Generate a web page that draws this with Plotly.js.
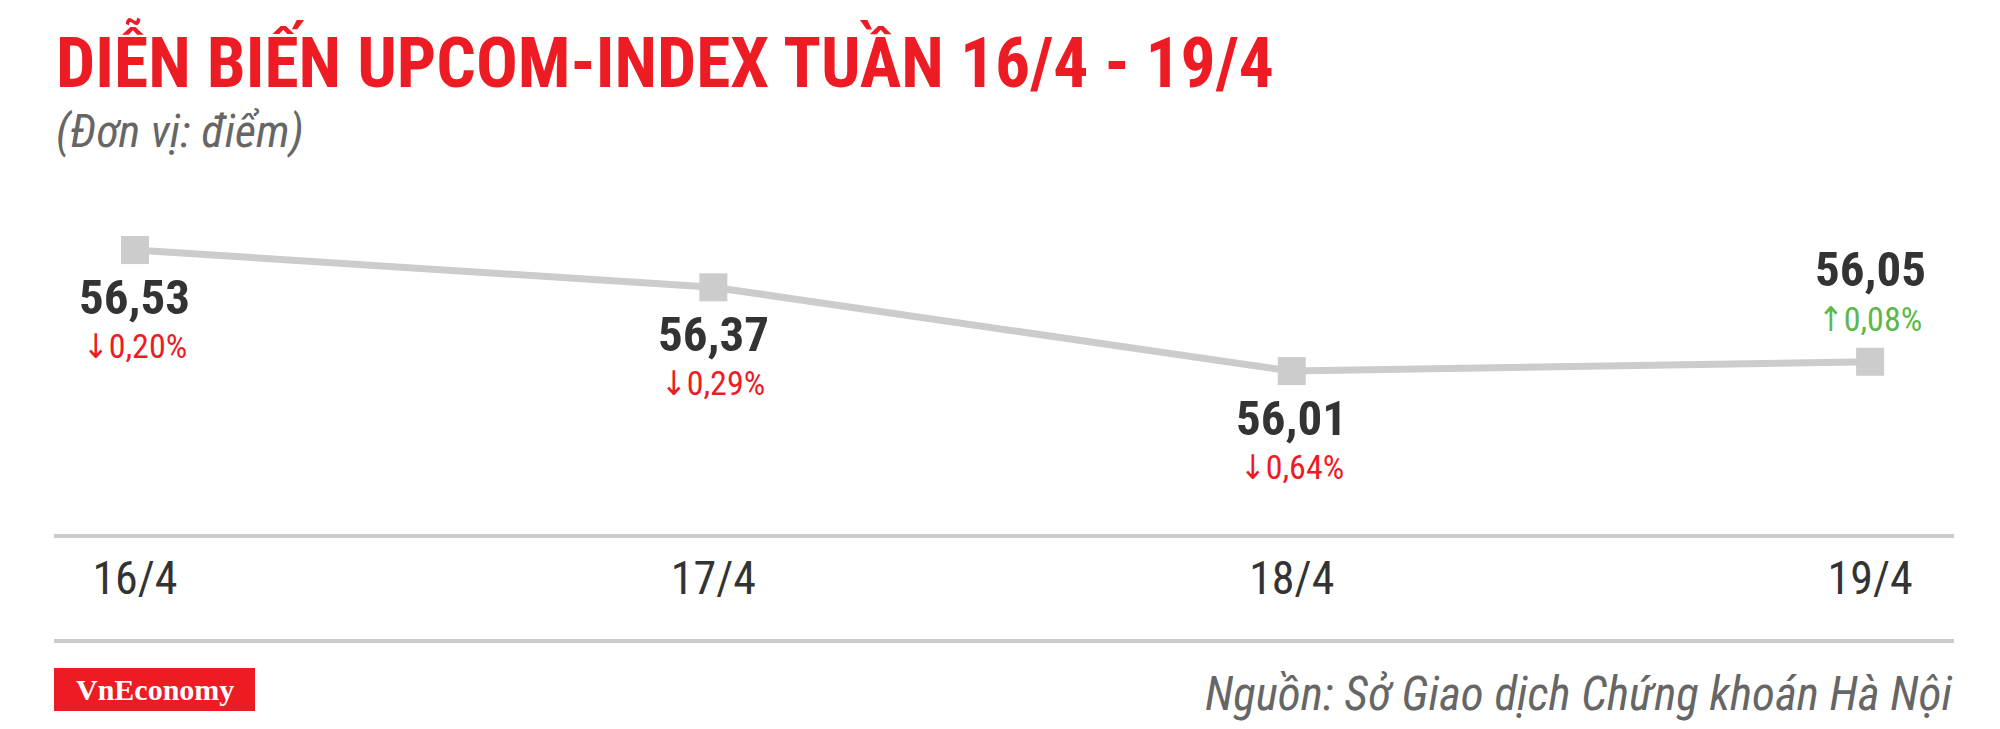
<!DOCTYPE html>
<html>
<head>
<meta charset="utf-8">
<script src="https://cdn.plot.ly/plotly-3.0.1.min.js"></script>
<style>
  html, body { margin: 0; padding: 0; background: #ffffff; }
  #chart { width: 2000px; height: 729px; }
</style>
</head>
<body>
<div id="chart"></div>
<script>
// ---- Data ----
const dates = ['16/4', '17/4', '18/4', '19/4'];
const values = [56.53, 56.37, 56.01, 56.05];
const valueLabels = ['56,53', '56,37', '56,01', '56,05'];
const changeLabels = ['↓0,20%', '↓0,29%', '↓0,64%', '↑0,08%'];
const directions = ['down', 'down', 'down', 'up'];

const titleText = 'DIỄN BIẾN UPCOM-INDEX TUẦN 16/4 - 19/4';
const subtitleText = '(Đơn vị: điểm)';
const sourceText = 'Nguồn: Sở Giao dịch Chứng khoán Hà Nội';
const logoText = 'VnEconomy';

// ---- Layout geometry (pixels) ----
const W = 2000, H = 729;
const mL = 54, mR = 46, mT = 170, mB = 195;
const plotH = H - mT - mB;
const plotW = W - mL - mR;
const py = p => (H - mB - p) / plotH; // pixel y -> paper y
const px = p => (p - mL) / plotW;     // pixel x -> paper x

const RED = '#ED1C24', GREEN = '#5DB84A', DARK = '#333333', GRAY = '#cccccc';
const COND = '"Roboto Condensed", "DejaVu Sans Condensed", sans-serif';

const annotations = [];
dates.forEach((d, i) => {
  const up = directions[i] === 'up';
  annotations.push({
    x: d, y: values[i], xref: 'x', yref: 'y',
    text: '<b>' + valueLabels[i] + '</b>', showarrow: false,
    yshift: up ? 92 : -47,
    font: { family: COND, size: 49, color: DARK }
  });
  annotations.push({
    x: d, y: values[i], xref: 'x', yref: 'y',
    text: changeLabels[i], showarrow: false,
    yshift: up ? 43 : -96,
    font: { family: COND, size: 34, color: up ? GREEN : RED }
  });
});

// title and subtitle
annotations.push({
  xref: 'paper', yref: 'paper', x: 0, y: py(61), xanchor: 'left', yanchor: 'middle',
  text: '<b>' + titleText + '</b>', showarrow: false,
  font: { family: COND, size: 69.5, color: RED }
});
annotations.push({
  xref: 'paper', yref: 'paper', x: 0, y: py(131), xanchor: 'left', yanchor: 'middle',
  text: '<i>' + subtitleText + '</i>', showarrow: false,
  font: { family: COND, size: 46, color: '#666666' }
});
// source
annotations.push({
  xref: 'paper', yref: 'paper', x: 1, y: py(693), xanchor: 'right', yanchor: 'middle',
  text: '<i>' + sourceText + '</i>', showarrow: false,
  font: { family: COND, size: 47, color: '#666666' }
});
// logo text
annotations.push({
  xref: 'paper', yref: 'paper', x: px(155), y: py(689), xanchor: 'center', yanchor: 'middle',
  text: '<b>' + logoText + '</b>', showarrow: false,
  font: { family: '"Liberation Serif", "DejaVu Serif", serif', size: 30, color: '#ffffff' }
});

const shapes = [
  { type: 'line', xref: 'paper', yref: 'paper', x0: 0, x1: 1, y0: py(641), y1: py(641),
    line: { color: GRAY, width: 4 } },
  { type: 'rect', xref: 'paper', yref: 'paper', x0: 0, x1: px(255),
    y0: py(711), y1: py(668), fillcolor: RED, line: { width: 0 } }
];

const trace = {
  x: dates, y: values, type: 'scatter', mode: 'lines+markers',
  line: { color: GRAY, width: 7 },
  marker: { symbol: 'square', size: 28, color: GRAY },
  hoverinfo: 'skip', cliponaxis: false
};

const layout = {
  width: W, height: H,
  margin: { l: mL, r: mR, t: mT, b: mB, pad: 0 },
  paper_bgcolor: '#ffffff', plot_bgcolor: '#ffffff',
  showlegend: false,
  xaxis: {
    type: 'category', range: [-0.14, 3.145],
    showline: true, linecolor: GRAY, linewidth: 4,
    showgrid: false, zeroline: false, ticks: '',
    tickfont: { family: COND, size: 46, color: DARK },
    ticklabelstandoff: 1, fixedrange: true
  },
  yaxis: {
    range: [55.31, 56.874], visible: false, showgrid: false, zeroline: false, fixedrange: true
  },
  annotations: annotations,
  shapes: shapes
};

Plotly.newPlot('chart', [trace], layout, { displayModeBar: false, staticPlot: true });
</script>
</body>
</html>
